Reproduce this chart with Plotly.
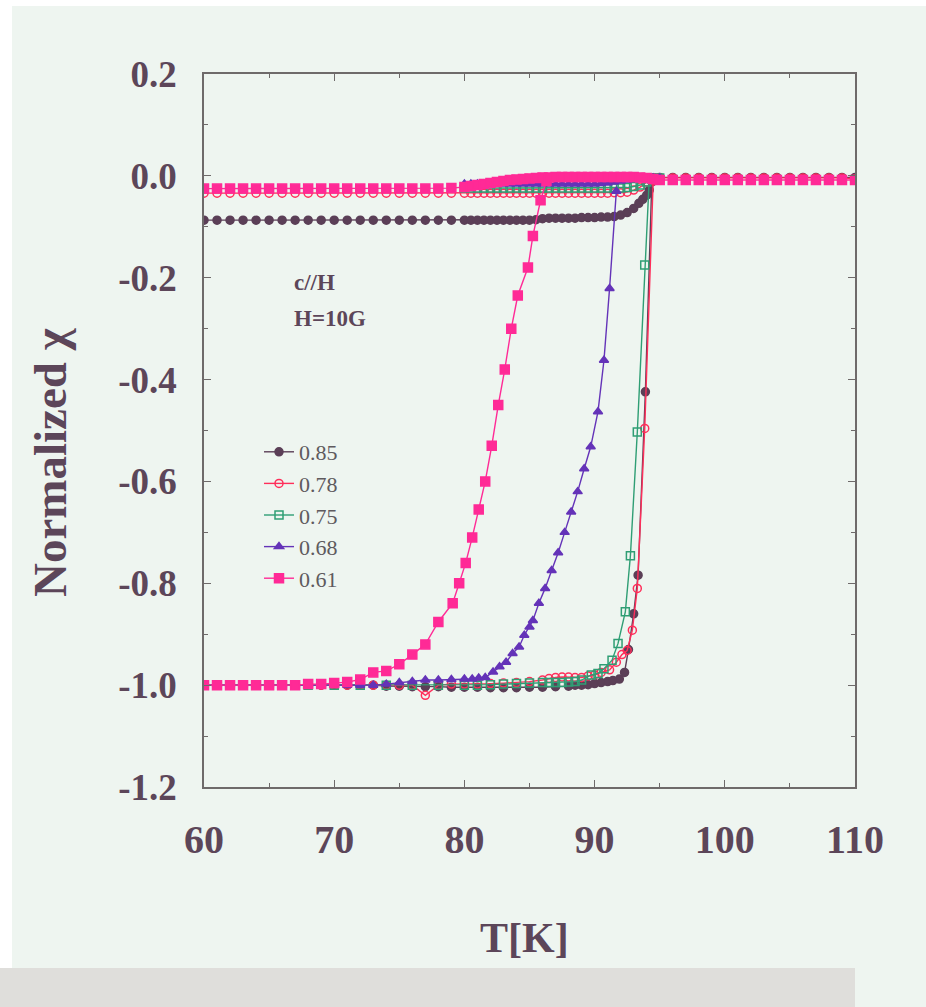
import plotly.graph_objects as go

# ---------------------------------------------------------------------------
# Normalized susceptibility vs temperature, c // H, H = 10 G
# Each sample has a zero-field-cooled branch (starts at -1) and a
# field-cooled branch (stays close to 0).
# ---------------------------------------------------------------------------

labels = ["0.85", "0.78", "0.75", "0.68", "0.61"]

# 0.85 -------------------------------------------------------------------
zfc_T_085 = [60, 61, 62, 63, 64, 65, 66, 67, 68, 69, 70, 71, 72, 73, 74, 75, 76, 77, 78, 79, 80,
             81, 82, 83, 84, 85, 86, 87, 88, 88.5, 89, 89.5, 90, 90.5, 91, 91.4, 91.9, 92.3,
             92.6, 93.0, 93.34, 93.9, 94.4]
zfc_v_085 = [-1.0, -1.0, -1.0, -1.0, -1.0, -1.0, -1.0, -1.0, -1.0, -1.0, -1.0, -1.0, -1.0, -1.0,
             -1.002, -1.002, -1.003, -1.003, -1.003, -1.004, -1.004, -1.004, -1.005, -1.005,
             -1.005, -1.004, -1.004, -1.003, -1.002, -1.0, -1.0, -0.999, -0.997, -0.995,
             -0.993, -0.991, -0.988, -0.975, -0.93, -0.86, -0.784, -0.424, -0.005]
fc_T_085 = [60, 61, 62, 63, 64, 65, 66, 67, 68, 69, 70, 71, 72, 73, 74, 75, 76, 77, 78, 79, 80,
            80.5, 81, 81.5, 82, 82.5, 83, 83.5, 84, 84.5, 85, 85.5, 86, 86.5, 87, 87.5, 88,
            88.5, 89, 89.5, 90, 90.5, 91, 91.5, 92, 92.5, 93, 93.4, 93.7, 94, 94.2, 94.4,
            94.6, 95, 96, 97, 98, 99, 100, 101, 102, 103, 104, 105, 106, 107, 108, 109, 110]
fc_v_085 = [-0.087, -0.087, -0.087, -0.087, -0.087, -0.087, -0.087, -0.087, -0.087, -0.087,
            -0.087, -0.087, -0.087, -0.087, -0.087, -0.087, -0.087, -0.087, -0.087, -0.087,
            -0.087, -0.087, -0.087, -0.087, -0.087, -0.087, -0.087, -0.087, -0.087, -0.087,
            -0.087, -0.086, -0.084, -0.083, -0.083, -0.083, -0.083, -0.083, -0.082, -0.082,
            -0.082, -0.081, -0.081, -0.080, -0.077, -0.072, -0.064, -0.054, -0.046, -0.038,
            -0.028, -0.012, -0.004, -0.003, -0.003, -0.003, -0.003, -0.003, -0.003, -0.003,
            -0.003, -0.003, -0.003, -0.003, -0.003, -0.003, -0.003, -0.003, -0.003]

# 0.78 -------------------------------------------------------------------
zfc_T_078 = [60, 61, 62, 63, 64, 65, 66, 67, 68, 69, 70, 71, 72, 73, 74, 75, 76, 77, 78, 79, 80,
             81, 82, 83, 84, 85, 86, 86.5, 87, 87.5, 88, 88.5, 89, 89.5, 90, 90.5, 91.15,
             91.67, 92.1, 92.5, 92.9, 93.28, 93.85, 94.5]
zfc_v_078 = [-1.0, -1.0, -1.0, -1.0, -1.0, -1.0, -1.0, -1.0, -1.0, -1.0, -1.0, -1.0, -1.0, -1.0,
             -1.0, -1.0, -1.0, -1.02, -1.0, -0.998, -0.998, -0.998, -0.997, -0.996, -0.995,
             -0.993, -0.99, -0.987, -0.985, -0.984, -0.984, -0.985, -0.985, -0.982, -0.98,
             -0.975, -0.97, -0.955, -0.94, -0.932, -0.892, -0.81, -0.496, -0.01]
fc_T_078 = [60, 61, 62, 63, 64, 65, 66, 67, 68, 69, 70, 71, 72, 73, 74, 75, 76, 77, 78, 79, 80,
            80.5, 81, 81.5, 82, 82.5, 83, 83.5, 84, 84.5, 85, 85.5, 86, 86.5, 87, 87.5, 88,
            88.5, 89, 89.5, 90, 90.5, 91, 91.5, 92, 92.5, 93, 93.5, 94, 94.5, 95, 96, 97, 98,
            99, 100, 101, 102, 103, 104, 105, 106, 107, 108, 109, 110]
fc_v_078 = [-0.034, -0.034, -0.034, -0.034, -0.034, -0.034, -0.034, -0.034, -0.034, -0.034,
            -0.034, -0.034, -0.034, -0.034, -0.034, -0.034, -0.034, -0.034, -0.034, -0.034,
            -0.034, -0.034, -0.034, -0.034, -0.034, -0.034, -0.034, -0.034, -0.034, -0.034,
            -0.034, -0.034, -0.034, -0.034, -0.034, -0.034, -0.034, -0.034, -0.034, -0.034,
            -0.034, -0.034, -0.034, -0.033, -0.033, -0.032, -0.028, -0.022, -0.012, -0.004,
            -0.004, -0.004, -0.004, -0.004, -0.004, -0.004, -0.004, -0.004, -0.004, -0.004,
            -0.004, -0.004, -0.004, -0.004, -0.004, -0.006]

# 0.75 -------------------------------------------------------------------
zfc_T_075 = [60, 62, 64, 66, 68, 70, 72, 74, 76, 78, 80, 81, 82, 83, 84, 85, 86, 86.5, 87, 87.5,
             88, 88.5, 89, 89.75, 90.26, 90.72, 91.34, 91.8, 92.36, 92.75, 93.28, 93.85, 94.2]
zfc_v_075 = [-1.0, -1.0, -1.0, -1.0, -1.0, -1.0, -1.0, -1.0, -1.0, -1.0, -1.0, -1.0, -0.999,
             -0.998, -0.997, -0.996, -0.995, -0.995, -0.995, -0.995, -0.994, -0.993, -0.99,
             -0.98, -0.977, -0.968, -0.951, -0.918, -0.856, -0.746, -0.503, -0.175, -0.005]
fc_T_075 = [80, 80.5, 81, 81.5, 82, 82.5, 83, 83.5, 84, 84.5, 85, 85.5, 86, 86.5, 87, 87.5, 88,
            88.5, 89, 89.5, 90, 90.5, 91, 91.5, 92, 92.5, 93, 93.5, 94, 94.5, 95]
fc_v_075 = [-0.024, -0.024, -0.024, -0.024, -0.024, -0.024, -0.024, -0.024, -0.024, -0.024,
            -0.024, -0.024, -0.024, -0.024, -0.024, -0.024, -0.024, -0.024, -0.024, -0.024,
            -0.024, -0.024, -0.024, -0.024, -0.024, -0.023, -0.021, -0.018, -0.012, -0.005,
            -0.004]

# 0.68 -------------------------------------------------------------------
zfc_T_068 = [60, 61, 62, 63, 64, 65, 66, 67, 68, 69, 70, 71, 72, 73, 74, 75, 76, 77, 78, 79,
             80.0, 80.6, 81.1, 81.6, 82.2, 82.7, 83.2, 83.7, 84.2, 84.6, 85.0, 85.26, 85.72,
             86.2, 86.7, 87.2, 87.7, 88.2, 88.7, 89.2, 89.7, 90.26, 90.72, 91.15, 91.67]
zfc_v_068 = [-1.0, -1.0, -1.0, -1.0, -1.0, -1.0, -1.0, -1.0, -1.0, -1.0, -1.0, -1.0, -1.0, -1.0,
             -0.998, -0.995, -0.993, -0.99, -0.99, -0.989, -0.988, -0.988, -0.986, -0.985,
             -0.974, -0.964, -0.955, -0.938, -0.925, -0.902, -0.886, -0.873, -0.839, -0.81,
             -0.775, -0.74, -0.70, -0.66, -0.62, -0.575, -0.532, -0.463, -0.362, -0.221, -0.03]
fc_T_068 = [80, 80.5, 81, 81.5, 82, 82.5, 83, 83.5, 84, 84.5, 85, 85.5, 86, 86.5, 87, 87.5, 88,
            88.5, 89, 89.5, 90, 90.5, 91, 91.5, 92, 92.5, 93, 93.5, 94, 94.5, 95]
fc_v_068 = [-0.016, -0.016, -0.016, -0.016, -0.016, -0.016, -0.016, -0.016, -0.016, -0.016,
            -0.016, -0.016, -0.016, -0.016, -0.016, -0.016, -0.016, -0.016, -0.016, -0.016,
            -0.016, -0.015, -0.014, -0.012, -0.01, -0.008, -0.007, -0.006, -0.005, -0.004,
            -0.004]

# 0.61 -------------------------------------------------------------------
zfc_T_061 = [60, 61, 62, 63, 64, 65, 66, 67, 68, 69, 70, 71, 72, 73, 74, 75, 76, 77, 78, 79.1,
             79.6, 80.1, 80.6, 81.1, 81.6, 82.1, 82.6, 83.1, 83.6, 84.1, 84.88, 85.26, 85.85,
             86.3]
zfc_v_061 = [-1.0, -1.0, -1.0, -1.0, -1.0, -1.0, -1.0, -1.0, -0.998, -0.998, -0.996, -0.994,
             -0.989, -0.975, -0.972, -0.959, -0.94, -0.92, -0.876, -0.839, -0.80, -0.76, -0.71,
             -0.655, -0.60, -0.53, -0.45, -0.38, -0.30, -0.235, -0.18, -0.118, -0.048, -0.01]
fc_T_061 = [60, 61, 62, 63, 64, 65, 66, 67, 68, 69, 70, 71, 72, 73, 74, 75, 76, 77, 78, 79, 80,
            80.5, 81, 81.5, 82, 82.5, 83, 83.5, 84, 84.5, 85, 85.5, 86, 86.5, 87, 87.5, 88,
            88.5, 89, 89.5, 90, 90.5, 91, 91.5, 92, 92.5, 93, 93.5, 94, 94.5, 95, 96, 97, 98,
            99, 100, 101, 102, 103, 104, 105, 106, 107, 108, 109, 110]
fc_v_061 = [-0.025, -0.025, -0.025, -0.025, -0.025, -0.025, -0.025, -0.025, -0.025, -0.025,
            -0.025, -0.025, -0.025, -0.025, -0.025, -0.025, -0.025, -0.025, -0.025, -0.024,
            -0.022, -0.02, -0.018, -0.016, -0.014, -0.012, -0.01, -0.008, -0.007, -0.006,
            -0.005, -0.004, -0.003, -0.003, -0.002, -0.002, -0.002, -0.002, -0.002, -0.002,
            -0.002, -0.002, -0.002, -0.002, -0.002, -0.002, -0.002, -0.003, -0.004, -0.006,
            -0.008, -0.008, -0.008, -0.008, -0.008, -0.008, -0.008, -0.008, -0.008, -0.008,
            -0.008, -0.008, -0.008, -0.008, -0.008, -0.008]

# axis ticks
x_tickvals = [60, 70, 80, 90, 100, 110]
x_ticktext = ["60", "70", "80", "90", "100", "110"]
y_tickvals = [0.2, 0.0, -0.2, -0.4, -0.6, -0.8, -1.0, -1.2]
y_ticktext = ["0.2", "0.0", "-0.2", "-0.4", "-0.6", "-0.8", "-1.0", "-1.2"]

# ---------------------------------------------------------------------------
series = [
    (labels[0], zfc_T_085, zfc_v_085, fc_T_085, fc_v_085),
    (labels[1], zfc_T_078, zfc_v_078, fc_T_078, fc_v_078),
    (labels[2], zfc_T_075, zfc_v_075, fc_T_075, fc_v_075),
    (labels[3], zfc_T_068, zfc_v_068, fc_T_068, fc_v_068),
    (labels[4], zfc_T_061, zfc_v_061, fc_T_061, fc_v_061),
]
styles = {
    "0.85": dict(color="#5b3f57", symbol="circle", size=8),
    "0.78": dict(color="#ff2e5a", symbol="circle-open", size=8),
    "0.75": dict(color="#2f9e74", symbol="square-open", size=8),
    "0.68": dict(color="#6433b8", symbol="triangle-up", size=8),
    "0.61": dict(color="#ff2a96", symbol="square", size=9),
}

fig = go.Figure()
for name, zt, zv, ft, fv in series:
    st = styles[name]
    # ZFC and FC branches in one trace, separated by a gap
    xs = list(zt) + [None] + list(ft)
    ys = list(zv) + [None] + list(fv)
    fig.add_trace(go.Scatter(
        x=xs, y=ys, name=name, mode="lines+markers",
        line=dict(color=st["color"], width=1.4),
        marker=dict(symbol=st["symbol"], size=st["size"], color=st["color"],
                    line=dict(color=st["color"], width=1.5)),
        connectgaps=False,
    ))

ink = "#5c4659"
serif = "Liberation Serif"

W, H = 926, 1007
ml, mr, mt, mb = 204, 71, 74, 220
pw, ph = W - ml - mr, H - mt - mb


def px_x(px):
    return (px - ml) / pw


def px_y(py):
    return (H - mb - py) / ph


axis_common = dict(
    showline=True, linecolor="#6e6a6a", linewidth=1.6, mirror="ticks",
    ticks="inside", ticklen=7, tickwidth=1.3, tickcolor="#6e6a6a",
    showgrid=False, zeroline=False,
)

fig.update_layout(
    width=W, height=H,
    margin=dict(l=ml, r=mr, t=mt, b=mb),
    paper_bgcolor="#eef5f0",
    plot_bgcolor="#eef5f0",
    font=dict(family=serif, color=ink),
    showlegend=True,
    legend=dict(
        x=px_x(259), y=px_y(431), xanchor="left", yanchor="top",
        bgcolor="rgba(0,0,0,0)", borderwidth=0,
        font=dict(family=serif, size=22, color="#5e5a5e"),
        itemwidth=30, tracegroupgap=0,
    ),
    xaxis=dict(
        range=[60, 110], tickvals=x_tickvals, ticktext=x_ticktext,
        minor=dict(dtick=5, tick0=60, ticks="inside", ticklen=4, tickcolor="#6e6a6a"),
        ticklabelstandoff=16,
        tickfont=dict(family=serif, size=40, color=ink, weight="bold"),
        **axis_common,
    ),
    yaxis=dict(
        range=[-1.2, 0.2], tickvals=y_tickvals, ticktext=y_ticktext,
        minor=dict(dtick=0.1, tick0=0, ticks="inside", ticklen=4, tickcolor="#6e6a6a"),
        ticklabelstandoff=18,
        tickfont=dict(family=serif, size=37, color=ink, weight="bold"),
        **axis_common,
    ),
    annotations=[
        # axis titles
        dict(text="T[K]", x=px_x(524), y=px_y(938), xref="paper", yref="paper",
             xanchor="center", yanchor="middle", showarrow=False,
             font=dict(family=serif, size=42, color=ink, weight="bold")),
        dict(text="Normalized χ", x=px_x(50), y=px_y(462), xref="paper", yref="paper",
             xanchor="center", yanchor="middle", showarrow=False, textangle=-90,
             font=dict(family=serif, size=47, color=ink, weight="bold")),
        # measurement conditions
        dict(text="c//H", x=px_x(292), y=px_y(282), xref="paper", yref="paper",
             xanchor="left", yanchor="middle", showarrow=False,
             font=dict(family=serif, size=23, color=ink, weight="bold")),
        dict(text="H=10G", x=px_x(292), y=px_y(318), xref="paper", yref="paper",
             xanchor="left", yanchor="middle", showarrow=False,
             font=dict(family=serif, size=23, color=ink, weight="bold")),
    ],
    shapes=[
        # white margin strips of the sheet
        dict(type="rect", xref="paper", yref="paper", layer="above",
             x0=px_x(0), x1=px_x(12), y0=px_y(968), y1=px_y(0),
             fillcolor="#ffffff", line=dict(width=0)),
        dict(type="rect", xref="paper", yref="paper", layer="above",
             x0=px_x(0), x1=px_x(W), y0=px_y(6), y1=px_y(0),
             fillcolor="#ffffff", line=dict(width=0)),
        # grey band along the bottom
        dict(type="rect", xref="paper", yref="paper", layer="above",
             x0=px_x(0), x1=px_x(855), y0=px_y(H), y1=px_y(968),
             fillcolor="#dfdedb", line=dict(width=0)),
    ],
)

fig.write_html("out.html")
